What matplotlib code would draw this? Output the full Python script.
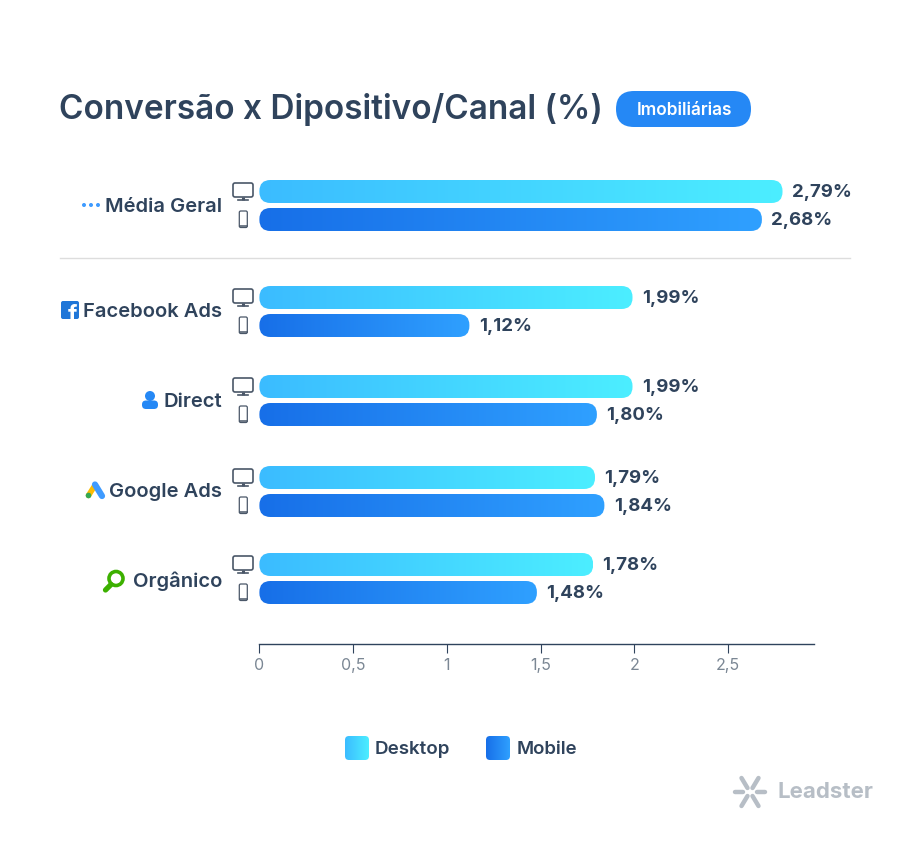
import numpy as np
import matplotlib
matplotlib.use("Agg")
import matplotlib.pyplot as plt
from matplotlib.patches import FancyBboxPatch, Circle

plt.rcParams["font.family"] = ["Inter", "DejaVu Sans"]

canais = ["Média Geral", "Facebook Ads", "Direct", "Google Ads", "Orgânico"]
desktop = [2.79, 1.99, 1.99, 1.79, 1.78]
mobile = [2.68, 1.12, 1.80, 1.84, 1.48]
ticks = [0, 0.5, 1, 1.5, 2, 2.5]
tick_labels = ["0", "0,5", "1", "1,5", "2", "2,5"]

dark = "#2f435c"
icon = "#4a5768"
grad_desktop = ("#3bbcff", "#4ceeff")
grad_mobile = ("#176fe8", "#2fa0ff")

# pixel layout of the groups, y axis is in image pixels
group_y = [205.5, 311.5, 400.5, 491.5, 578.5]
label_base = [212, 317, 407, 497, 587]
bar_offset = 14
bar_h = 23
px_per_unit = 187.5

W, H = 912, 848
fig = plt.figure(figsize=(W / 100, H / 100), dpi=100, facecolor="white")

# overlay in image pixels for title, icons, legend
bg = fig.add_axes([0, 0, 1, 1])
bg.set_xlim(0, W)
bg.set_ylim(H, 0)
bg.axis("off")

ax = fig.add_axes([259.4 / W, 1 - 644 / H, 554.6 / W, (644 - 160) / H])
ax.patch.set_alpha(0)


def gradient_box(a, x0, y0, w, h, r, colors, aspect=1.0):
    c0 = np.array(matplotlib.colors.to_rgb(colors[0]))
    c1 = np.array(matplotlib.colors.to_rgb(colors[1]))
    t = np.linspace(0, 1, 128)[None, :, None]
    img = c0 + (c1 - c0) * t
    box = FancyBboxPatch((x0, y0), w, h, boxstyle=f"round,pad=0,rounding_size={r}",
                         mutation_aspect=aspect, fc="none", ec="none")
    a.add_patch(box)
    im = a.imshow(img, extent=(x0, x0 + w, y0 + h, y0), aspect="auto", zorder=2, interpolation="bilinear")
    im.set_clip_path(box)


def fmt(v):
    return f"{v:.2f}".replace(".", ",") + "%"


for i, y in enumerate(group_y):
    y1 = y - bar_offset
    y2 = y + bar_offset
    gradient_box(ax, 0, y1 - bar_h / 2, desktop[i], bar_h, 11 / px_per_unit, grad_desktop, px_per_unit)
    gradient_box(ax, 0, y2 - bar_h / 2, mobile[i], bar_h, 11 / px_per_unit, grad_mobile, px_per_unit)
    ax.annotate(fmt(desktop[i]), (desktop[i], y1), xytext=(6.8, -0.9), textcoords="offset points",
                va="center", ha="left", fontsize=13.4, fontweight="bold", color=dark)
    ax.annotate(fmt(mobile[i]), (mobile[i], y2), xytext=(6.8, -0.9), textcoords="offset points",
                va="center", ha="left", fontsize=13.4, fontweight="bold", color=dark)
    bg.text(222, label_base[i], canais[i], ha="right", va="baseline", fontsize=14.5,
            fontweight="semibold", color=dark)

    # monitor
    bg.add_patch(FancyBboxPatch((233, y1 - 8.5), 20, 14, boxstyle="round,pad=0,rounding_size=2",
                                fc="white", ec=icon, lw=1.2))
    bg.plot([243, 243], [y1 + 5.5, y1 + 8], color=icon, lw=2.2, solid_capstyle="butt")
    bg.plot([238, 248], [y1 + 8.5, y1 + 8.5], color=icon, lw=1.2)
    # phone
    bg.add_patch(FancyBboxPatch((239.3, y2 - 8.5), 8, 16.5, boxstyle="round,pad=0,rounding_size=1.5",
                                fc="white", ec=icon, lw=0.9))
    bg.plot([240, 246.6], [y2 + 6.8, y2 + 6.8], color=icon, lw=1.1)

ax.set_xlim(0, 554.6 / px_per_unit)
ax.set_ylim(644, 160)
ax.set_xticks(ticks)
ax.set_xticklabels(tick_labels)
ax.set_yticks([])
for s in ["top", "left", "right"]:
    ax.spines[s].set_visible(False)
ax.spines["bottom"].set_color(dark)
ax.spines["bottom"].set_linewidth(1)
ax.tick_params(axis="x", length=6.5, width=0.8, color=dark, labelcolor="#7b8794", labelsize=11.5, pad=3.5)

# title and pill
bg.text(59, 119, "Conversão x Dipositivo/Canal (%)", ha="left", va="baseline",
        fontsize=24, fontweight="semibold", color=dark)
bg.add_patch(FancyBboxPatch((616, 91), 135, 36, boxstyle="round,pad=0,rounding_size=18", fc="#2588f5", ec="none"))
bg.text(684.5, 115, "Imobiliárias", ha="center", va="baseline", fontsize=12.4, fontweight="semibold", color="white")

# divider
bg.plot([60, 850], [257.5, 257.5], color="#dddddd", lw=1)

# media geral dots
for x in [84, 91, 98]:
    bg.add_patch(Circle((x, 205), 2, fc="#3f9bff", ec="none"))

# facebook
fb = FancyBboxPatch((61, 301), 18, 18, boxstyle="round,pad=0,rounding_size=2", fc="#1f76d8", ec="none")
bg.add_patch(fb)
f_txt = bg.text(72, 322, "f", ha="center", va="baseline", fontsize=17, fontweight="bold", color="white",
                clip_on=True)
f_txt.set_clip_path(fb)

# direct
bg.add_patch(Circle((150, 396), 5, fc="#2588f5", ec="none"))
bg.add_patch(FancyBboxPatch((142, 400.5), 16, 8.5, boxstyle="round,pad=0,rounding_size=4", fc="#2588f5", ec="none"))

# google ads
bg.plot([88.5, 94.5], [495.5, 486], color="#fbbc04", lw=4, solid_capstyle="round")
bg.plot([95, 102], [484.5, 496], color="#3f9bff", lw=4.5, solid_capstyle="round", zorder=3)
bg.add_patch(Circle((88.5, 495.5), 2.8, fc="#34a853", ec="none", zorder=4))

# organico
bg.add_patch(Circle((116, 578.5), 7, fc="none", ec="#3cb000", lw=2.6))
bg.plot([105.5, 111], [590, 584.5], color="#3cb000", lw=3.8, solid_capstyle="round")

# legend
gradient_box(bg, 345, 736, 24, 24, 4, grad_desktop)
bg.text(375, 754, "Desktop", ha="left", va="baseline", fontsize=13.5, fontweight="semibold", color=dark)
gradient_box(bg, 486, 736, 24, 24, 4, grad_mobile)
bg.text(517, 754, "Mobile", ha="left", va="baseline", fontsize=13.4, fontweight="semibold", color=dark)

# leadster logo
logo = "#b7bec6"
for x_in, x_out, y_in, y_out in [(747.5, 741.5, 788, 778), (752.5, 758.5, 788, 778),
                                 (747.5, 741.5, 796, 806), (752.5, 758.5, 796, 806)]:
    bg.plot([x_in, x_out], [y_in, y_out], color=logo, lw=3.2, solid_capstyle="round")
bg.plot([735.5, 743], [792, 792], color=logo, lw=3.2, solid_capstyle="round")
bg.plot([757, 765], [792, 792], color=logo, lw=3.2, solid_capstyle="round")
bg.text(778, 798, "Leadster", ha="left", va="baseline", fontsize=16, fontweight="bold", color=logo)

bg.set_xlim(0, W)
bg.set_ylim(H, 0)
fig.savefig("out.png", dpi=100, facecolor="white")
